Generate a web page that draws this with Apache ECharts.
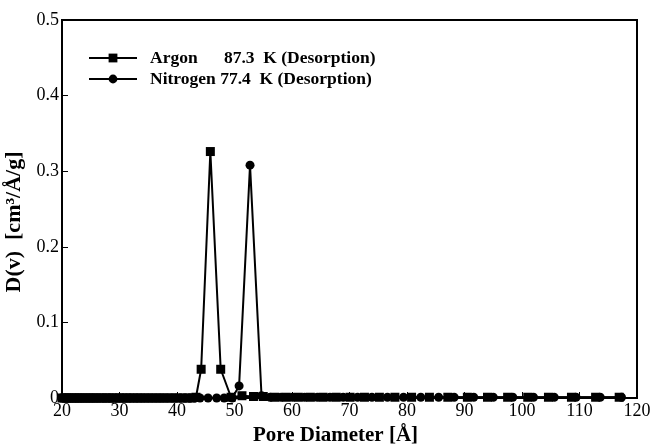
<!DOCTYPE html>
<html lang="en">
<head>
    <meta charset="UTF-8">
    <title>Pore size distribution</title>
    <script src="https://cdn.jsdelivr.net/npm/echarts@6/dist/echarts.min.js"></script>
    <style>
        body { margin: 0; background: #fff; }
        #main { width: 652px; height: 445px; }
    </style>
</head>
<body>
<div id="main"></div>
<script>
    // pore diameter [A] and D(v)
    var argonX = [20.0, 20.4, 20.8, 21.2, 21.7, 22.1, 22.6, 23.0, 23.5, 24.0, 24.5, 25.0, 25.5, 26.0, 26.6, 27.1, 27.7, 28.2, 28.8, 29.4,
        30.0, 30.6, 31.2, 31.8, 32.4, 33.1, 33.7, 34.4, 35.1, 35.8, 36.5, 37.2, 37.9, 38.7, 39.4, 40.2, 41.0, 41.8, 42.6, 43.3,
        44.2, 45.8, 47.6, 49.4, 51.3, 53.3, 55.0, 57.0, 59.0, 61.1, 63.2, 65.4, 67.7, 70.1, 72.6, 75.2, 77.9, 80.8, 83.9, 87.1,
        90.5, 94.0, 97.5, 101.0, 104.6, 108.6, 112.8, 116.9];
    var argonY = [0, 0, 0, 0, 0, 0, 0, 0, 0, 0, 0, 0, 0, 0, 0, 0, 0, 0, 0, 0,
        0, 0, 0, 0, 0, 0, 0, 0, 0, 0, 0, 0, 0, 0, 0, 0, 0, 0, 0, 0.001,
        0.038, 0.326, 0.038, 0.001, 0.003, 0.002, 0.002, 0.001, 0.001, 0.001, 0.001, 0.001, 0.001, 0.001, 0.001, 0.001, 0.001, 0.001, 0.001, 0.001,
        0.001, 0.001, 0.001, 0.001, 0.001, 0.001, 0.001, 0.001];

    var nitrogenX = [20.2, 20.6, 21.0, 21.5, 21.9, 22.4, 22.8, 23.3, 23.8, 24.3, 24.8, 25.3, 25.8, 26.3, 26.9, 27.4, 28.0, 28.5, 29.1, 29.7,
        30.3, 30.9, 31.5, 32.1, 32.8, 33.4, 34.1, 34.8, 35.5, 36.2, 36.9, 37.6, 38.3, 39.1, 39.8, 40.6, 41.4, 42.2, 43.0,
        44.0, 45.4, 46.9, 48.2, 49.6, 50.8, 52.7, 54.7, 56.2, 58.1, 60.1, 62.2, 64.4, 66.6, 68.9, 71.4, 73.9, 76.6, 79.4, 82.4,
        85.5, 88.2, 91.6, 95.0, 98.4, 102.0, 105.6, 109.4, 113.6, 117.3];
    var nitrogenY = [0, 0, 0, 0, 0, 0, 0, 0, 0, 0, 0, 0, 0, 0, 0, 0, 0, 0, 0, 0,
        0, 0, 0, 0, 0, 0, 0, 0, 0, 0, 0, 0, 0, 0, 0, 0, 0, 0, 0,
        0, 0, 0, 0, 0, 0.016, 0.308, 0.003, 0.001, 0.001, 0.001, 0.001, 0.001, 0.001, 0.001, 0.001, 0.001, 0.001, 0.001, 0.001,
        0.001, 0.001, 0.001, 0.001, 0.001, 0.001, 0.001, 0.001, 0.001, 0.001];

    var argonName = 'Argon      87.3  K (Desorption)';
    var nitrogenName = 'Nitrogen 77.4  K (Desorption)';

    function pairs(xs, ys) {
        var out = [];
        for (var i = 0; i < xs.length; i++) {
            out.push([xs[i], ys[i]]);
        }
        return out;
    }

    var font = '"Liberation Serif", "DejaVu Serif", serif';
    var myChart = echarts.init(document.getElementById('main'));
    var option = {
        backgroundColor: '#fff',
        animation: false,
        grid: {
            left: 62, right: 15, top: 20, bottom: 47,
            outerBoundsMode: 'none',
            show: true, borderColor: '#000', borderWidth: 2, backgroundColor: 'transparent'
        },
        legend: {
            left: 83, top: 44,
            orient: 'vertical',
            itemWidth: 48, itemHeight: 11, itemGap: 3,
            data: [argonName, nitrogenName],
            textStyle: {
                fontFamily: font, fontWeight: 'bold', fontSize: 17.5, color: '#000',
                padding: [0, 0, 0, 8]
            }
        },
        xAxis: {
            type: 'value',
            min: 20, max: 120, interval: 10,
            name: 'Pore Diameter [Å]',
            nameLocation: 'middle',
            nameGap: 19,
            nameTextStyle: {
                fontFamily: font, fontWeight: 'bold', fontSize: 21, color: '#000',
                padding: [0, 28, 0, 0]
            },
            axisLine: { lineStyle: { color: '#000', width: 2 } },
            axisTick: { inside: true, length: 6, lineStyle: { color: '#000', width: 1 } },
            axisLabel: { fontFamily: font, fontSize: 18, color: '#000', margin: 4 },
            splitLine: { show: false }
        },
        yAxis: {
            type: 'value',
            min: 0, max: 0.5, interval: 0.1,
            name: 'D(v)  [cm³/Å/g]',
            nameLocation: 'middle',
            nameGap: 34,
            nameTextStyle: {
                fontFamily: font, fontWeight: 'bold', fontSize: 22, color: '#000',
                padding: [0, 26, 0, 0]
            },
            axisLine: { lineStyle: { color: '#000', width: 2 } },
            axisTick: { inside: true, length: 6, lineStyle: { color: '#000', width: 1 } },
            axisLabel: { fontFamily: font, fontSize: 18, color: '#000', margin: 3 },
            splitLine: { show: false }
        },
        series: [
            {
                name: argonName,
                type: 'line',
                data: pairs(argonX, argonY),
                symbol: 'rect',
                symbolSize: 9,
                showAllSymbol: true,
                itemStyle: { color: '#000' },
                lineStyle: { color: '#000', width: 2 }
            },
            {
                name: nitrogenName,
                type: 'line',
                data: pairs(nitrogenX, nitrogenY),
                symbol: 'circle',
                symbolSize: 9,
                showAllSymbol: true,
                itemStyle: { color: '#000' },
                lineStyle: { color: '#000', width: 2 }
            }
        ]
    };
    myChart.setOption(option);
</script>
</body>
</html>
